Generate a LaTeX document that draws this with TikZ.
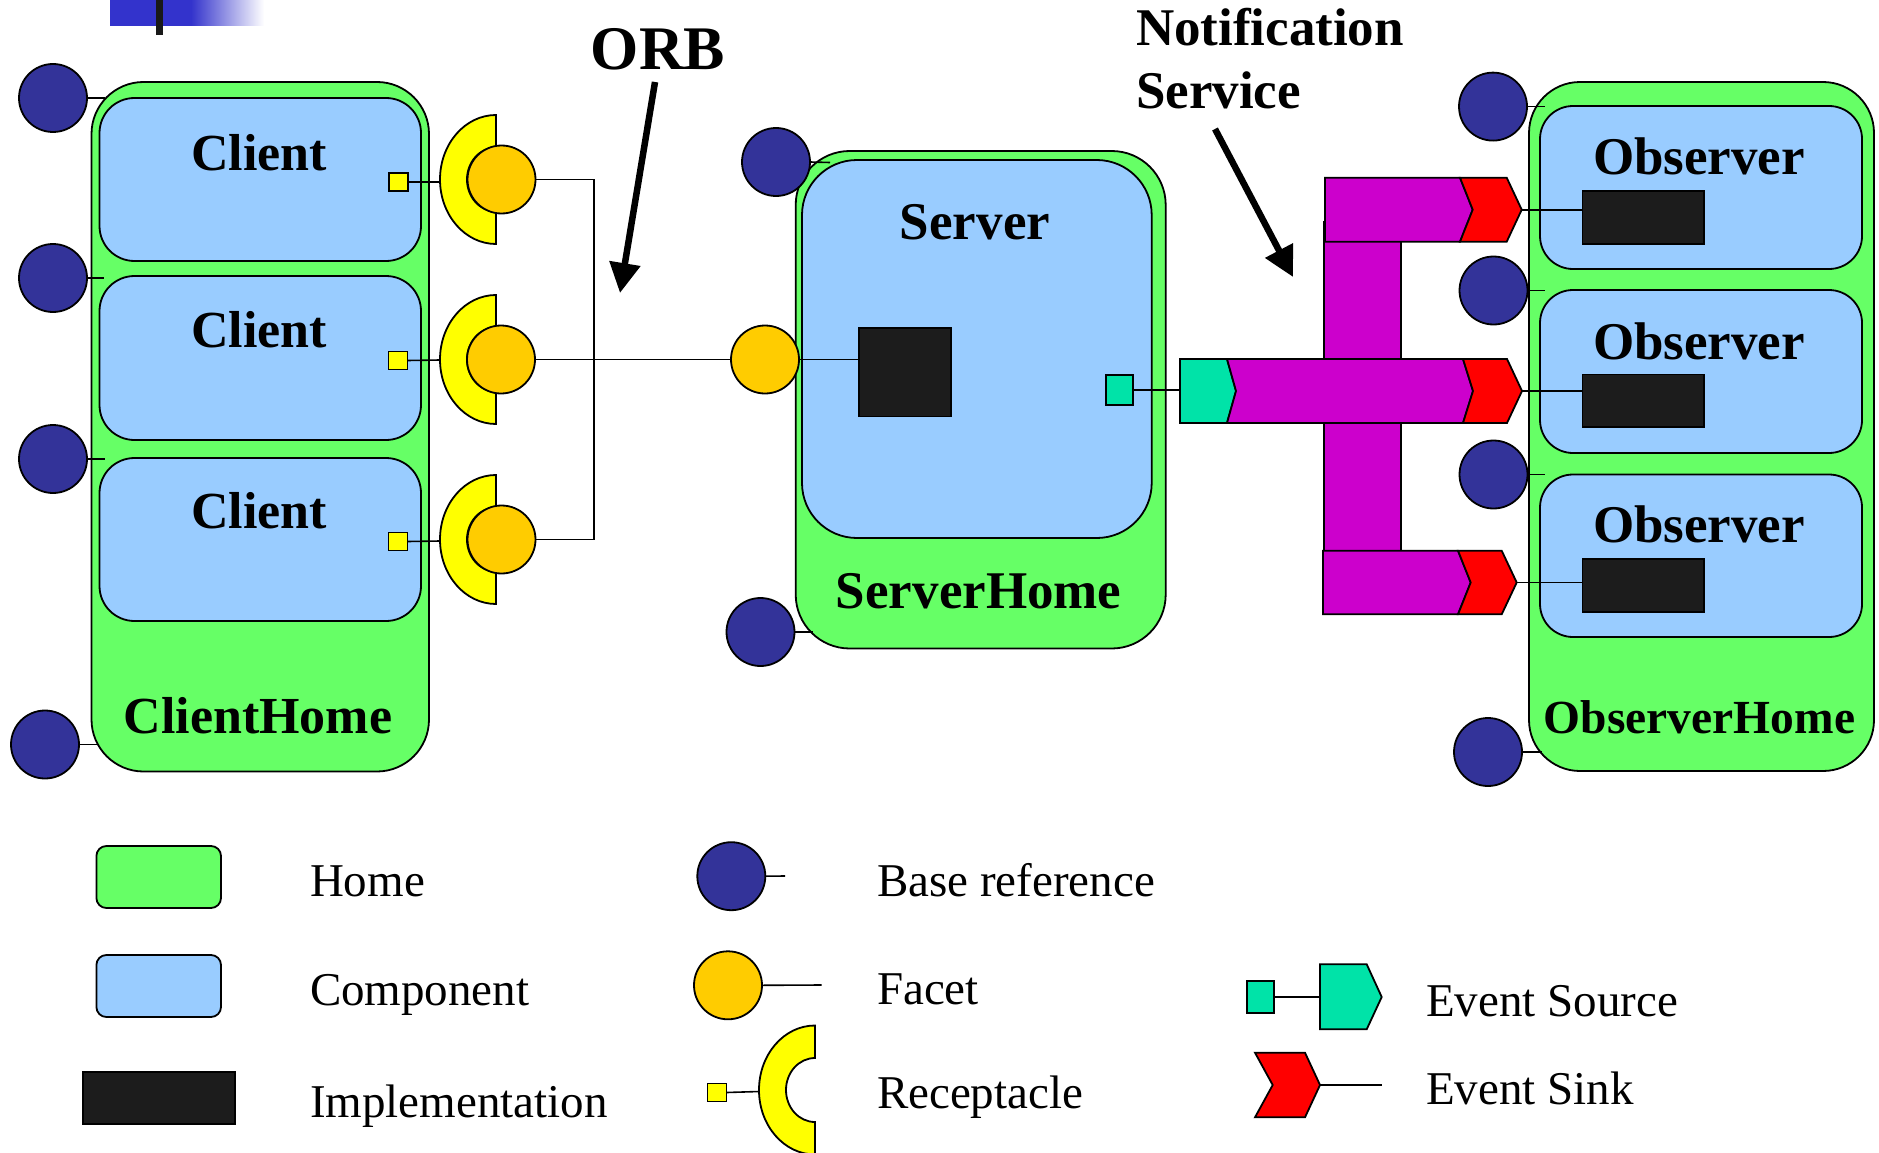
\documentclass[tikz,border=0pt]{standalone}
\usepackage{fontspec}
\setmainfont{Liberation Serif}
\usetikzlibrary{arrows.meta}
\definecolor{homeg}{HTML}{66FF66}
\definecolor{compb}{HTML}{99CCFF}
\definecolor{basen}{HTML}{333399}
\definecolor{faceto}{HTML}{FFCC00}
\definecolor{recy}{HTML}{FFFF00}
\definecolor{impk}{HTML}{1C1C1C}
\definecolor{chanm}{HTML}{CC00CC}
\definecolor{sinkr}{HTML}{FF0000}
\definecolor{srcc}{HTML}{00E3A8}
\definecolor{topb}{HTML}{3333CC}
\newcommand\recshape[2]{%
  \draw[ol,fill=recy] (#1,#2-64.5) arc[start angle=270,end angle=90,x radius=56,y radius=64.5]
    -- (#1,#2+32) arc[start angle=90,end angle=270,x radius=29,y radius=32] -- cycle;}
\begin{document}
\begin{tikzpicture}[x=1pt,y=-1pt,
  ol/.style={draw=black,line width=1.8pt},
  wire/.style={draw=black,line width=1.6pt},
  home/.style={ol,fill=homeg,rounded corners=52pt,inner sep=0,outer sep=0},
  comp/.style={ol,fill=compb,rounded corners=35pt,inner sep=0,outer sep=0},
  impbox/.style={ol,fill=impk,inner sep=0,outer sep=0},
  baseref/.style={ol,circle,fill=basen,minimum size=68pt,inner sep=0,outer sep=0},
  facetc/.style={ol,circle,fill=faceto,minimum size=68pt,inner sep=0,outer sep=0},
  ysq/.style={ol,fill=recy,minimum width=19pt,minimum height=18pt,inner sep=0,outer sep=0},
  csq/.style={ol,fill=srcc,inner sep=0,outer sep=0},
  bigarrow/.style={draw=black,line width=6.5pt,-{Triangle[length=30pt,width=30pt]}},
  tbold/.style={inner sep=0,outer sep=0,font=\bfseries\fontsize{52}{62}\selectfont},
  tbolds/.style={inner sep=0,outer sep=0,font=\bfseries\fontsize{53}{64}\selectfont},
  treg/.style={inner sep=0,outer sep=0,anchor=base west,font=\fontsize{47}{56}\selectfont}]
\useasboundingbox (0,0) rectangle (1879,1153);
\fill[white] (0,0) rectangle (1879,1153);
% top decoration
\fill[topb] (110,0) rectangle (191,26);
\shade[left color=topb,right color=white] (191,0) rectangle (264,26);
\fill[black!90] (156,0) rectangle (163,35);

% ---------------- Client side ----------------
\node[home,minimum width=337.5pt,minimum height=689.5pt] (chome) at (260.25,426.75) {};
\node[comp,minimum width=321.5pt,minimum height=163pt] (cl1) at (260.25,179.5) {};
\node[comp,minimum width=321.5pt,minimum height=164pt] (cl2) at (260.25,358) {};
\node[comp,minimum width=321.5pt,minimum height=163pt] (cl3) at (260.25,539.5) {};
\node[tbold,anchor=base] (tcl1) at (259,170) {Client};
\node[tbold,anchor=base] (tcl2) at (259,347) {Client};
\node[tbold,anchor=base] (tcl3) at (259,528) {Client};
\node[tbold,anchor=base] (tchome) at (258,733) {ClientHome};

\node[baseref] (cb1) at (53,98) {};
\node[baseref] (cb2) at (53,278) {};
\node[baseref] (cb3) at (53,459) {};
\node[baseref] (cb4) at (45,744.5) {};
\coordinate (cb1e) at (105,98);
\coordinate (cb2e) at (104,278);
\coordinate (cb3e) at (105,459);
\coordinate (cb4e) at (97,744.5);
\draw[wire] (cb1.east) -- (cb1e);
\draw[wire] (cb2.east) -- (cb2e);
\draw[wire] (cb3.east) -- (cb3e);
\draw[wire] (cb4.east) -- (cb4e);

\node[ysq] (ys1) at (398.5,182) {};
\node[ysq] (ys2) at (398,360.5) {};
\node[ysq] (ys3) at (398,541.5) {};
\coordinate (rc1) at (440,182);
\coordinate (rc2) at (440,360);
\coordinate (rc3) at (440,541);
\draw[wire] (ys1.east) -- (rc1);
\draw[wire] (ys2.east) -- (rc2);
\draw[wire] (ys3.east) -- (rc3);
\recshape{496}{179.5}
\recshape{496}{359.5}
\recshape{496}{539.5}
\node[facetc] (f1) at (501.5,179.5) {};
\node[facetc] (f2) at (501,359.5) {};
\node[facetc] (f3) at (501.5,539.5) {};
\coordinate (busx) at (594,0);
\draw[wire] (f1.east) -- (f1.east -| busx) -- (f3.east -| busx) -- (f3.east);

% ---------------- Server side ----------------
\node[home,rounded corners=54pt,minimum width=370pt,minimum height=497.5pt] (shome) at (980.7,399.75) {};
\node[comp,rounded corners=55pt,minimum width=349.7pt,minimum height=378pt] (serv) at (976.85,349) {};
\node[tbolds,anchor=base] (tserv) at (975,239.6) {Server};
\node[tbolds,anchor=base] (tshome) at (978.7,608.6) {ServerHome};
\node[impbox,minimum width=91.7pt,minimum height=88.6pt] (simp) at (905.15,372.1) {};
\node[facetc] (sfac) at (765,359.5) {};
\draw[wire] (f2.east) -- (sfac.west);
\draw[wire] (sfac.east) -- (sfac.east -| simp.west);
\node[baseref] (sb1) at (776,162) {};
\node[baseref] (sb2) at (760.5,632) {};
\coordinate (sb1e) at (830,162.5);
\coordinate (sb2e) at (813,632);
\draw[wire] (sb1.east) -- (sb1e);
\draw[wire] (sb2.east) -- (sb2e);
\node[csq,minimum width=27.6pt,minimum height=30.4pt] (esq) at (1119.5,389.8) {};
\coordinate (cyanL) at (1180,389.8);
\draw[wire] (esq.east) -- (cyanL);

% ---------------- Notification channel ----------------
\fill[chanm] (1324,222) rectangle (1400.7,551);
\draw[ol] (1324,551) -- (1324,222) -- (1400.7,222) -- (1400.7,551);
\draw[ol,fill=chanm] (1325,177.7) -- (1460,177.7) -- (1472.7,209.7) -- (1460,241.7) -- (1325,241.7) -- cycle;
\draw[ol,fill=sinkr] (1460,177.7) -- (1506.7,177.7) -- (1521.7,209.7) -- (1506.7,241.7) -- (1460,241.7) -- (1472.7,209.7) -- cycle;
\draw[ol,fill=srcc] (1180,359) -- (1227,359) -- (1236,391) -- (1227,423) -- (1180,423) -- cycle;
\draw[ol,fill=chanm] (1227,359) -- (1463,359) -- (1473,391) -- (1463,423) -- (1227,423) -- (1236,391) -- cycle;
\draw[ol,fill=sinkr] (1463,359) -- (1507,359) -- (1522,391) -- (1507,423) -- (1463,423) -- (1473,391) -- cycle;
\draw[ol,fill=chanm] (1323,550.7) -- (1458,550.7) -- (1470.7,582.5) -- (1458,614.3) -- (1323,614.3) -- cycle;
\draw[ol,fill=sinkr] (1458,550.7) -- (1501.7,550.7) -- (1516.7,582.5) -- (1501.7,614.3) -- (1458,614.3) -- (1470.7,582.5) -- cycle;
\coordinate (sk1) at (1521.7,209.7);
\coordinate (sk2) at (1522,391);
\coordinate (sk3) at (1516.7,582.5);

% ---------------- Observer side ----------------
\node[home,rounded corners=51pt,minimum width=345pt,minimum height=689pt] (ohome) at (1701.5,426.5) {};
\node[comp,rounded corners=33pt,minimum width=322pt,minimum height=163pt] (ob1) at (1701,187.5) {};
\node[comp,rounded corners=33pt,minimum width=322pt,minimum height=163pt] (ob2) at (1701,371.5) {};
\node[comp,rounded corners=33pt,minimum width=322pt,minimum height=162.5pt] (ob3) at (1701,555.75) {};
\node[tbolds,anchor=base] (tob1) at (1699,175) {Observer};
\node[tbolds,anchor=base] (tob2) at (1699,359.4) {Observer};
\node[tbolds,anchor=base] (tob3) at (1699,542) {Observer};
\node[inner sep=0,outer sep=0,font=\bfseries\fontsize{47.5}{57}\selectfont,anchor=base] (tohome) at (1699.5,733.3) {ObserverHome};
\node[impbox,minimum width=121.5pt,minimum height=53pt] (oi1) at (1643.25,217.5) {};
\node[impbox,minimum width=121.5pt,minimum height=52.5pt] (oi2) at (1643.25,400.75) {};
\node[impbox,minimum width=121.5pt,minimum height=52.7pt] (oi3) at (1643.25,585.35) {};
\draw[wire] (sk1) -- (sk1 -| oi1.west);
\draw[wire] (sk2) -- (sk2 -| oi2.west);
\draw[wire] (sk3) -- (sk3 -| oi3.west);
\node[baseref] (ob1c) at (1493,106.6) {};
\node[baseref] (ob2c) at (1493.5,290.5) {};
\node[baseref] (ob3c) at (1493.5,474.5) {};
\node[baseref] (ob4c) at (1488,752) {};
\coordinate (ob1e) at (1545,106.6);
\coordinate (ob2e) at (1545,290.5);
\coordinate (ob3e) at (1545,474.5);
\coordinate (ob4e) at (1542,752);
\draw[wire] (ob1c.east) -- (ob1e);
\draw[wire] (ob2c.east) -- (ob2e);
\draw[wire] (ob3c.east) -- (ob3e);
\draw[wire] (ob4c.east) -- (ob4e);

% ---------------- Annotations ----------------
\node[inner sep=0,outer sep=0,font=\bfseries\fontsize{62}{72}\selectfont,anchor=base] (torb) at (658,69.5) {ORB};
\coordinate (orbS) at (655,82);
\coordinate (orbT) at (620,293);
\draw[bigarrow] (orbS) -- (orbT);
\node[tbolds,anchor=base west] (tnot) at (1136,45.5) {Notification};
\node[tbolds,anchor=base west] (tsvc) at (1136,109) {Service};
\coordinate (nsS) at (1215,129);
\coordinate (nsT) at (1293,277);
\draw[bigarrow] (nsS) -- (nsT);

% ---------------- Legend ----------------
\node[ol,fill=homeg,rounded corners=10pt,minimum width=124.6pt,minimum height=62pt,inner sep=0] (lghome) at (158.7,877) {};
\node[ol,fill=compb,rounded corners=10pt,minimum width=124.6pt,minimum height=62pt,inner sep=0] (lgcomp) at (158.7,986) {};
\node[impbox,minimum width=152pt,minimum height=52pt] (lgimp) at (159,1098) {};
\node[treg] (tlhome) at (310,896) {Home};
\node[treg] (tlcomp) at (310,1005) {Component};
\node[treg] (tlimp) at (310,1117) {Implementation};

\node[baseref] (lgbase) at (731.3,876.2) {};
\coordinate (lgbasee) at (785,876);
\draw[wire] (lgbase.east) -- (lgbasee);
\node[facetc] (lgfac) at (728,985.3) {};
\coordinate (lgface) at (821.7,985);
\draw[wire] (lgfac.east) -- (lgface);
\node[ysq] (lgysq) at (717,1092.5) {};
\coordinate (lgrecL) at (759,1091.5);
\draw[wire] (lgysq.east) -- (lgrecL);
\recshape{815}{1090}
\node[treg] (tlbase) at (877,896) {Base reference};
\node[treg] (tlfac) at (877,1004) {Facet};
\node[treg] (tlrec) at (877,1108) {Receptacle};

\node[csq,minimum width=27.6pt,minimum height=32.3pt] (lgesq) at (1260.5,997) {};
\coordinate (lgpentL) at (1320,997);
\draw[wire] (lgesq.east) -- (lgpentL);
\draw[ol,fill=srcc] (1320,964.3) -- (1366.7,964.3) -- (1381.7,997) -- (1366.7,1029.3) -- (1320,1029.3) -- cycle;
\draw[ol,fill=sinkr] (1255,1052.7) -- (1305,1052.7) -- (1320,1085) -- (1305,1117.3) -- (1255,1117.3) -- (1272.7,1085) -- cycle;
\coordinate (lgsinkT) at (1320,1085);
\coordinate (lgsinkE) at (1381.7,1085);
\draw[wire] (lgsinkT) -- (lgsinkE);
\node[treg] (tlsrc) at (1426,1016) {Event Source};
\node[treg] (tlsink) at (1426,1104) {Event Sink};
\end{tikzpicture}
\end{document}
